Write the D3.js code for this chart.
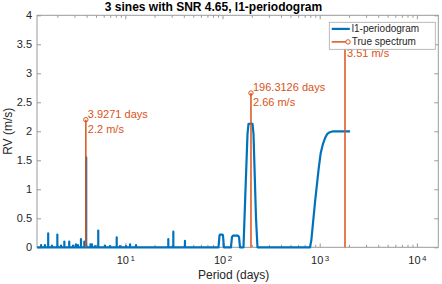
<!DOCTYPE html>
<html>
<head>
<meta charset="utf-8">
<script src="https://cdn.jsdelivr.net/npm/d3@7"></script>
<style>
  body { margin: 0; background: #fff; }
  svg { display: block; font-family: "Liberation Sans", Arial, sans-serif; }
</style>
</head>
<body>
<div id="chart"></div>
<script>
// broad parts of the l1-periodogram (period in days, rv in m/s)
const curvePeriods = [1.24, 91.0, 93.1, 94.2, 100, 101.2, 103.5, 122.2, 125.2, 128.2, 144.3, 147.9, 151.4,
    164.4, 172.5, 180.8, 185.2, 203.6, 208.5, 221.2, 229,
    794, 820, 859, 895, 931, 975, 1023, 1075, 1133, 1190, 1256, 1371, 2051];
const curveRV = [0, 0, 0.2, 0.22, 0.22, 0.2, 0, 0, 0.18, 0.2, 0.2, 0.18, 0,
    0, 1.0, 1.95, 2.13, 2.13, 1.95, 0.5, 0,
    0, 0.12, 0.47, 0.78, 1.04, 1.35, 1.62, 1.77, 1.88, 1.95, 1.98, 2.0, 2.0];

// narrow spikes of the l1-periodogram
const spikePeriods = [1.36, 1.49, 1.61, 1.76, 2.00, 2.18, 2.36, 2.65, 2.90, 3.11, 3.26, 3.50, 3.79, 3.96,
    4.38, 4.54, 4.88, 5.27, 6.18, 6.96, 8.16, 8.81, 10.2, 11.2, 12.9, 27.7, 31.2, 41.1];
const spikeRV = [0.04, 0.04, 0.24, 0.03, 0.22, 0.03, 0.10, 0.10, 0.03, 0.05, 0.04, 0.14, 0.10, 1.55,
    0.05, 0.05, 0.02, 0.29, 0.03, 0.02, 0.17, 0.02, 0.02, 0.05, 0.04, 0.14, 0.27, 0.11];

// true spectrum
const truePeriods = [3.9271, 196.3126, 1820.4];
const trueRV = [2.2, 2.66, 3.51];

const yTicks = [0, 0.5, 1, 1.5, 2, 2.5, 3, 3.5, 4];
const xTicks = [10, 100, 1000, 10000];
const seriesNames = ["l1-periodogram", "True spectrum"];

const blue = "#0072BD", orange = "#D95319";
const axisColor = "#9a9a9a", textColor = "#262626";

const W = 442, H = 284;
const margin = { top: 15.3, right: 3.7, bottom: 36.7, left: 37 };
const width = W - margin.left - margin.right;
const height = H - margin.top - margin.bottom;

const svg = d3.select("#chart").append("svg")
    .attr("width", W)
    .attr("height", H);

const x = d3.scaleLog().domain([1.235, 16600]).range([0, width]);
const y = d3.scaleLinear().domain([0, 4]).range([height, 0]);

const g = svg.append("g").attr("transform", `translate(${margin.left},${margin.top})`);

// minor ticks of the log axis
const minorTicks = [];
[1, 10, 100, 1000, 10000].forEach(dec => {
    for (let k = 2; k <= 9; k++) {
        const v = k * dec;
        if (v > x.domain()[0] && v < x.domain()[1]) minorTicks.push(v);
    }
});

function styleAxis(sel) {
    sel.select(".domain").remove();
    sel.selectAll(".tick line").attr("stroke", axisColor);
    sel.selectAll(".tick text").attr("fill", textColor).attr("font-size", 11);
}

// bottom
g.append("g").attr("transform", `translate(0,${height})`)
    .call(d3.axisBottom(x).tickValues(minorTicks).tickSize(-2.5).tickFormat(""))
    .call(styleAxis);
const gx = g.append("g").attr("transform", `translate(0,${height})`)
    .call(d3.axisBottom(x).tickValues(xTicks).tickSize(-4).tickPadding(9).tickFormat(""))
    .call(styleAxis);
gx.selectAll(".tick text").each(function (d) {
    const t = d3.select(this);
    t.append("tspan").text("10");
    t.append("tspan").attr("dy", "-0.45em").attr("dx", "1.5").attr("font-size", 8)
        .text(Math.round(Math.log10(d)));
});
// top
g.append("g")
    .call(d3.axisTop(x).tickValues(minorTicks).tickSize(-2.5).tickFormat(""))
    .call(styleAxis);
g.append("g")
    .call(d3.axisTop(x).tickValues(xTicks).tickSize(-4).tickFormat(""))
    .call(styleAxis);
// left / right
g.append("g")
    .call(d3.axisLeft(y).tickValues(yTicks).tickSize(-4).tickPadding(5).tickFormat(d3.format("")))
    .call(styleAxis);
g.append("g").attr("transform", `translate(${width},0)`)
    .call(d3.axisRight(y).tickValues(yTicks).tickSize(-4).tickFormat(""))
    .call(styleAxis);

// box
g.append("rect")
    .attr("x", 0).attr("y", 0)
    .attr("width", width).attr("height", height)
    .attr("fill", "none")
    .attr("stroke", axisColor)
    .attr("stroke-width", 1);

// periodogram line
const points = curvePeriods.map((p, i) => ({ p: p, v: curveRV[i] }));
spikePeriods.forEach((p, i) => {
    points.push({ p: p, v: 0, o: 0 }, { p: p, v: spikeRV[i], o: 1 }, { p: p, v: 0, o: 2 });
});
points.sort((a, b) => (a.p - b.p) || ((a.o || 0) - (b.o || 0)));

const line = d3.line()
    .x(d => x(d.p))
    .y(d => y(d.v));

g.append("path")
    .datum(points)
    .attr("fill", "none")
    .attr("stroke", blue)
    .attr("stroke-width", 2.2)
    .attr("stroke-linejoin", "round")
    .attr("d", line);

// legend box (screen coords)
const legendBox = { x: 329.3, y: 22.3, w: 106, h: 27 };

// true spectrum stems
const stems = truePeriods.map((p, i) => ({ p: p, v: trueRV[i] }));
const stem = g.append("g").selectAll("g").data(stems).join("g");
stem.append("line")
    .attr("x1", d => x(d.p)).attr("x2", d => x(d.p))
    .attr("y1", y(0)).attr("y2", d => y(d.v))
    .attr("stroke", orange).attr("stroke-width", 1.5);
stem.append("circle")
    .attr("cx", d => x(d.p)).attr("cy", d => y(d.v))
    .attr("r", 2.2)
    .attr("fill", "none").attr("stroke", orange).attr("stroke-width", 1);
// the first line of a label is hidden by the legend when it falls beneath it
stem.filter(d => !(x(d.p) + margin.left > legendBox.x && y(d.v) + margin.top - 2 < legendBox.y + legendBox.h + 8))
    .append("text")
    .attr("x", d => x(d.p) + 2)
    .attr("y", d => y(d.v) - 2)
    .attr("fill", orange).attr("font-size", 11)
    .text(d => `${d.p} days`);
stem.append("text")
    .attr("x", d => x(d.p) + 2)
    .attr("y", d => y(d.v) + 13)
    .attr("fill", orange).attr("font-size", 11)
    .text(d => `${d.v} m/s`);

// legend
const lg = svg.append("g").attr("transform", `translate(${legendBox.x},${legendBox.y})`);
lg.append("rect")
    .attr("width", legendBox.w).attr("height", legendBox.h)
    .attr("fill", "#fff").attr("stroke", "#a8a8a8").attr("stroke-width", 0.8);
const rows = lg.selectAll(".row").data(seriesNames).join("g")
    .attr("class", "row")
    .attr("transform", (d, i) => `translate(0,${6.6 + i * 13})`);
rows.filter((d, i) => i === 0).append("line")
    .attr("x1", 2.4).attr("x2", 20.5).attr("stroke", blue).attr("stroke-width", 2.2);
rows.filter((d, i) => i === 1).append("line")
    .attr("x1", 2.4).attr("x2", 18.7).attr("stroke", orange).attr("stroke-width", 1.5);
rows.filter((d, i) => i === 1).append("circle")
    .attr("cx", 18.7).attr("r", 2.2)
    .attr("fill", "#fff").attr("stroke", orange).attr("stroke-width", 1);
rows.append("text")
    .attr("x", 22.5).attr("y", 2.9)
    .attr("fill", textColor).attr("font-size", 10)
    .text(d => d);

// titles
svg.append("text")
    .attr("x", 213.5).attr("y", 11)
    .attr("text-anchor", "middle")
    .attr("font-weight", "bold").attr("font-size", 12)
    .attr("fill", "#000")
    .text("3 sines with SNR 4.65, l1-periodogram");
svg.append("text")
    .attr("x", margin.left + width / 2 - 4).attr("y", 279)
    .attr("text-anchor", "middle")
    .attr("font-size", 12).attr("fill", textColor)
    .text("Period (days)");
svg.append("text")
    .attr("transform", `translate(12,${margin.top + height / 2}) rotate(-90)`)
    .attr("text-anchor", "middle")
    .attr("font-size", 12).attr("fill", textColor)
    .text("RV (m/s)");
</script>
</body>
</html>
